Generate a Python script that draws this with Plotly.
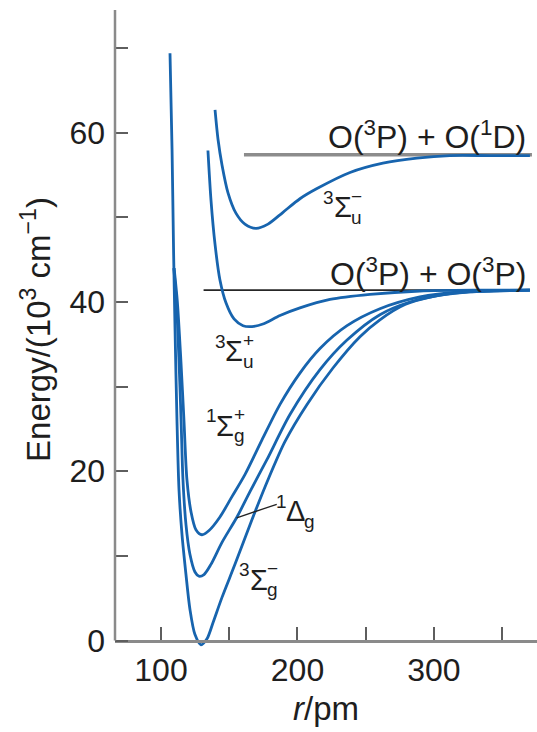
import plotly.graph_objects as go

# ---------------- data ----------------
# ground state 3Σg−
r_3Sg = [106.6, 108.1, 109.2, 110.3, 111.7, 113.2, 115.4, 118.3, 121.2, 124.9, 129.3, 133.7,
         138.1, 144.7, 154.2, 166.7, 178.4, 190.8, 207.0, 226.0, 245.8, 260.4, 278.8, 300.7,
         326.4, 370.3]
E_3Sg = [69.4, 58.0, 46.2, 36.7, 26.1, 17.8, 12.5, 7.8, 3.7, 0.7, -0.5, 0.2,
         2.1, 5.1, 9.0, 14.3, 19.0, 23.5, 27.9, 32.2, 35.9, 37.9, 39.7, 40.7,
         41.2, 41.4]
# 1Δg
r_1Dg = [109.4, 111.3, 113.2, 114.7, 116.1, 118.3, 121.2, 124.9, 127.8, 131.5, 136.6, 144.7,
         155.7, 165.2, 177.7, 194.5, 216.5, 236.3, 260.4, 282.4, 311.7, 341.0, 370.3]
E_1Dg = [44.0, 40.0, 33.0, 26.1, 19.0, 13.7, 10.2, 8.1, 7.6, 7.8, 9.0, 11.6,
         14.6, 17.6, 21.4, 26.7, 32.0, 35.5, 38.5, 40.0, 41.0, 41.3, 41.4]
# 1Σg+
r_1Sg = [109.6, 112.0, 114.6, 116.8, 119.0, 122.0, 125.6, 130.0, 135.2, 143.2, 152.0, 161.5,
         174.0, 187.2, 201.8, 216.5, 236.3, 260.4, 289.7, 319.0, 370.3]
E_1Sg = [44.0, 40.0, 33.0, 26.1, 19.0, 15.2, 13.1, 12.5, 13.0, 14.6, 17.0, 19.6,
         23.7, 27.9, 31.6, 34.5, 37.2, 39.2, 40.6, 41.2, 41.4]
# 3Σu+
r_3Su_p = [134.4, 136.6, 139.6, 143.2, 147.6, 153.5, 160.1, 166.7, 174.7, 187.2, 201.8, 223.8,
           253.1, 289.7, 333.7, 370.3]
E_3Su_p = [57.9, 52.1, 46.8, 42.6, 39.9, 38.0, 37.2, 37.1, 37.4, 38.4, 39.3, 40.3,
           40.9, 41.3, 41.4, 41.4]
# 3Σu−
r_3Su_m = [139.6, 141.8, 144.7, 149.1, 154.9, 161.5, 169.6, 178.4, 189.4, 201.8, 214.3, 238.5,
           262.6, 287.5, 311.7, 341.0, 370.3]
E_3Su_m = [62.7, 59.2, 56.2, 52.9, 50.5, 49.2, 48.7, 49.2, 50.6, 52.2, 53.4, 55.3,
           56.4, 57.0, 57.3, 57.3, 57.3]

# dissociation limits
lim_3P3P_r = [131.2, 370.3]
lim_3P3P_E = [41.4, 41.4]
lim_3P1D_r = [160.8, 371.8]
lim_3P1D_E = [57.4, 57.4]

# ticks
y_major = [0, 20, 40, 60]
y_major_text = ["0", "20", "40", "60"]
y_minor = [10, 30, 50, 70]
x_major = [100, 200, 300]
x_major_text = ["100", "200", "300"]
x_minor = [150, 250, 350]

X_RANGE = [66.3, 375.5]
Y_RANGE = [-1.0, 74.5]

FONT = "Liberation Sans, Arial, Helvetica, sans-serif"
TXT = "#1e1e1e"
BLUE = "#1764ae"
AXC = "#8a8a8a"
TKC = "#5e5e5e"

fig = go.Figure()

fig.add_trace(go.Scatter(x=lim_3P1D_r, y=lim_3P1D_E, mode="lines",
                         line=dict(color="#8c8c8c", width=3.5), hoverinfo="skip"))
fig.add_trace(go.Scatter(x=lim_3P3P_r, y=lim_3P3P_E, mode="lines",
                         line=dict(color="#262626", width=1.6), hoverinfo="skip"))

for rr, ee in [(r_3Su_m, E_3Su_m), (r_3Su_p, E_3Su_p), (r_1Sg, E_1Sg),
               (r_1Dg, E_1Dg), (r_3Sg, E_3Sg)]:
    fig.add_trace(go.Scatter(x=rr, y=ee, mode="lines",
                             line=dict(color=BLUE, width=2.8, shape="spline", smoothing=0.8)))

# dissociation labels
fig.add_annotation(x=369, y=59.7, xref="x", yref="y", xanchor="right", yanchor="middle",
                   text="O(<sup>3</sup>P) + O(<sup>1</sup>D)", showarrow=False,
                   font=dict(family=FONT, size=32, color=TXT))
fig.add_annotation(x=369, y=43.6, xref="x", yref="y", xanchor="right", yanchor="middle",
                   text="O(<sup>3</sup>P) + O(<sup>3</sup>P)", showarrow=False,
                   font=dict(family=FONT, size=32, color=TXT))


def term(x, y, pre, core, sub, post, core_size=29, small=19):
    def ann(text, size, dx, dy):
        fig.add_annotation(x=x, y=y, xref="x", yref="y", xanchor="center", yanchor="middle",
                           xshift=dx, yshift=dy, text=text, showarrow=False,
                           font=dict(family=FONT, size=size, color=TXT))
    ann(core, core_size, 0, 0)
    ann(pre, small, -14, 10)
    ann(sub, small, 14, -10)
    if post:
        ann(post, small, 14, 11)


term(233.3, 51.2, "3", "Σ", "u", "−")
term(153.5, 34.2, "3", "Σ", "u", "+")
term(146.9, 25.4, "1", "Σ", "g", "+")
term(171.8, 7.2, "3", "Σ", "g", "−")
term(198.9, 15.3, "1", "Δ", "g", "")

# leader line for 1Δg
fig.add_shape(type="line", xref="x", yref="y", x0=155.5, y0=14.5, x1=184.8, y1=16.1,
              line=dict(color="#222222", width=1.3))

# y-axis line (from 0 upward)
ypos0 = (0 - Y_RANGE[0]) / (Y_RANGE[1] - Y_RANGE[0])
fig.add_shape(type="line", xref="paper", yref="paper", x0=0, x1=0, y0=ypos0, y1=1,
              line=dict(color=AXC, width=2.5))

fig.update_layout(
    width=537, height=732,
    margin=dict(l=115, r=0, t=10, b=82.5),
    paper_bgcolor="white", plot_bgcolor="white",
    showlegend=False,
    font=dict(family=FONT, color=TXT),
    xaxis=dict(range=X_RANGE, anchor="free", position=ypos0,
               showline=True, linecolor=AXC, linewidth=2.5,
               tickmode="array", tickvals=x_major, ticktext=x_major_text,
               ticks="inside", ticklen=13, tickwidth=1.5, tickcolor=TKC,
               minor=dict(tickmode="array", tickvals=x_minor, ticks="inside",
                          ticklen=13, tickwidth=1.5, tickcolor=TKC, showgrid=False),
               ticklabelstandoff=0,
               tickfont=dict(size=32, color=TXT, family=FONT),
               showgrid=False, zeroline=False,
               title=dict(text="<i>r</i>/pm", font=dict(size=33, color=TXT, family=FONT),
                          standoff=10)),
    yaxis=dict(range=Y_RANGE, showline=False,
               tickmode="array", tickvals=y_major, ticktext=y_major_text,
               ticks="inside", ticklen=13, tickwidth=1.5, tickcolor=TKC,
               minor=dict(tickmode="array", tickvals=y_minor, ticks="inside",
                          ticklen=13, tickwidth=1.5, tickcolor=TKC, showgrid=False),
               ticklabelstandoff=9,
               tickfont=dict(size=32, color=TXT, family=FONT),
               showgrid=False, zeroline=False,
               title=dict(text="Energy/(10<sup>3</sup> cm<sup>−1</sup>)",
                          font=dict(size=33, color=TXT, family=FONT), standoff=8)),
)

fig.write_html("out.html", config={"displayModeBar": False},
               post_script="document.body.style.margin='0';document.body.style.overflow='hidden';")
